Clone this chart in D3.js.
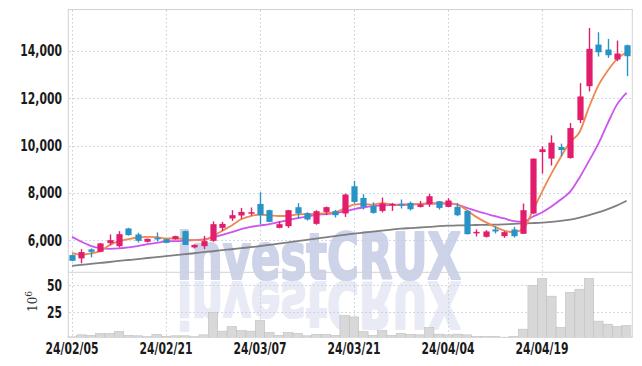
<!DOCTYPE html>
<html>
<head>
<script src="https://d3js.org/d3.v7.min.js"></script>
<style>
body { margin: 0; background: #fff; }
text { font-family: "DejaVu Sans Condensed", "DejaVu Sans", sans-serif; }
</style>
</head>
<body>
<div id="chart"></div>
<script>
var w = 642, h = 366;

// trading days shown
var dates = ["24/02/05","24/02/06","24/02/07","24/02/08","24/02/13","24/02/14","24/02/15","24/02/16","24/02/19","24/02/20",
  "24/02/21","24/02/22","24/02/23","24/02/26","24/02/27","24/02/28","24/02/29","24/03/04","24/03/05","24/03/06",
  "24/03/07","24/03/08","24/03/11","24/03/12","24/03/13","24/03/14","24/03/15","24/03/18","24/03/19","24/03/20",
  "24/03/21","24/03/22","24/03/25","24/03/26","24/03/27","24/03/28","24/03/29","24/04/01","24/04/02","24/04/03",
  "24/04/04","24/04/05","24/04/08","24/04/09","24/04/11","24/04/12","24/04/15","24/04/16","24/04/17","24/04/18",
  "24/04/19","24/04/22","24/04/23","24/04/24","24/04/25","24/04/26","24/04/29","24/04/30","24/05/02","24/05/03"];

var opens  = [5367,5228,5608,5506,5873,5747,6494,6240,5930,6097, 6042,6042,6380,5692,5747,5970,6519,6916,7042,7140,
             7531,7266,6519,6590,7392,7139,6688,7194,7224,7127, 8278,7785,7447,7236,7464,7520,7574,7405,7519,7645,
             7405,7405,7236,6295,6140,6451,6169,6451,6267,7127, 9725,9447,9937,9472,11075,12510,14269,14058,13636,14240];
var highs  = [5390,5620,5650,5880,6240,6380,6520,6310,6070,6325, 6060,6190,6400,5820,6180,6790,6772,7266,7363,7380,
             8025,7290,6800,7280,7561,7180,7266,7420,7280,7970, 8502,7941,7600,7800,7574,7717,7630,7660,7953,7650,
             7772,7574,7250,6451,6420,6590,6380,6560,7548,9450, 9966,10430,10080,10950,12637,14974,14789,14510,14438,14269];
var lows   = [5110,5017,5270,5490,5790,5690,6190,5900,5900,5945, 5870,6020,5790,5650,5620,5930,6392,6814,6899,7042,
             6675,6760,6500,6519,6915,6830,6650,7055,6958,6983, 7548,7296,7120,7170,7236,7337,7250,7380,7405,7295,
             7392,7013,6240,6156,6110,6283,6100,6110,6267,7100, 8814,9152,9557,9447,10950,12286,13763,13708,13565,12932];
var closes = [5127,5494,5506,5861,6000,6253,6211,5970,6055,6030, 5886,6169,5800,5800,5958,6675,6688,7055,7194,7181,
             7055,6772,6675,7266,7127,6873,7224,7394,7055,7928, 7617,7405,7152,7548,7532,7464,7308,7505,7856,7362,
             7675,7055,6253,6350,6367,6367,6338,6169,7266,9447, 9840,10122,9810,10738,12075,14088,13945,13818,13890,13776];

// volume, millions of shares
var volume = [2.5,4.4,3.9,5.7,5.7,7.5,3.9,3.5,2.6,4.8, 3.0,3.5,3.5,2.6,4.4,25,7.8,12.1,8.4,7.8,
              17.6,6.6,3.9,6.6,5.7,3.5,4.8,4.8,3.9,22.2, 20.9,7.5,3.9,8.4,3.9,5.7,4.8,4.4,11.2,5.0,
              4.4,5.0,4.4,2.9,2.9,2.9,2.0,2.9,9.6,50, 56.2,40,11.2,43.6,46.4,56.2,17,14.2,12.1,13];

// moving averages
var ma5  = [5464,5380,5439,5536,5789,5958,6042,6112,6140,6127, 6070,6070,6042,6000,6000,6170,6400,6620,6880,7020,
            7080,7050,7020,7030,7090,7100,7110,7140,7180,7340, 7500,7530,7500,7560,7510,7480,7500,7530,7560,7550,
            7550,7500,7266,6983,6760,6561,6400,6338,6470,7230, 8040,8810,9515,10150,10570,11620,12540,13170,13666,13944];
var ma20 = [6140,5929,5760,5662,5633,5650,5692,5747,5831,5886, 5945,5958,5970,6000,6030,6112,6224,6338,6464,6561,
            6620,6675,6760,6844,6928,7000,7067,7097,7139,7211, 7308,7380,7434,7464,7490,7506,7506,7519,7548,7548,
            7548,7506,7363,7236,7126,7013,6915,6802,6772,6990, 7170,7420,7720,8050,8650,9350,10080,10950,11750,12231];
var ma60 = [4916,4955,4995,5035,5075,5120,5160,5200,5245,5285, 5325,5365,5405,5445,5490,5530,5575,5615,5660,5700,
            5747,5800,5850,5905,5960,6015,6065,6120,6170,6225, 6274,6315,6360,6400,6445,6485,6510,6535,6560,6590,
            6612,6620,6630,6640,6648,6654,6670,6690,6705,6720, 6738,6770,6810,6865,6950,7055,7170,7308,7470,7667];

var priceTicks = [6000,8000,10000,12000,14000];
var volTicks = [25,50];
var dateTicks = ["24/02/05","24/02/21","24/03/07","24/03/21","24/04/04","24/04/19"];

var upColor = "#e21d6c", downColor = "#2a93c6";

var pLeft = 67.3, pRight = 631.3, pTop = 10, pMid = 272.3, pBottom = 337.3;

var svg = d3.select("#chart").append("svg")
    .attr("width", w)
    .attr("height", h);

var x = d3.scaleBand().domain(dates).range([pLeft, pRight]).padding(0);
var y = d3.scaleLinear().domain([4640, 15730]).range([pMid, pTop]);
var yv = d3.scaleLinear().domain([0, 62]).range([339.6, pMid]);
var cx = function(i){ return x(dates[i]) + x.bandwidth()/2; };

svg.append("defs").append("clipPath").attr("id", "volclip")
  .append("rect").attr("x", pLeft).attr("y", pMid).attr("width", pRight-pLeft).attr("height", pBottom-pMid);

// watermark + its reflection
var wm = svg.append("g").attr("id", "watermark")
    .style("font-family", "'Liberation Sans', Arial, sans-serif")
    .style("font-weight", "bold").style("font-size", "64px")
    .attr("fill", "#cdd3e9").attr("stroke", "#cdd3e9").attr("stroke-width", 2.2)
    .attr("stroke-linejoin", "round");
wm.append("text")
    .attr("x", 177).attr("y", 279)
    .attr("textLength", 284).attr("lengthAdjust", "spacingAndGlyphs")
    .text("investCRUX");
wm.append("text")
    .attr("x", 177).attr("y", 279)
    .attr("transform", "translate(0,561) scale(1,-1)")
    .attr("textLength", 284).attr("lengthAdjust", "spacingAndGlyphs")
    .attr("opacity", 0.45)
    .text("investCRUX");

// grid
var grid = svg.append("g").attr("stroke", "#c6cbdd").attr("stroke-dasharray", "1.5,2.5").attr("stroke-width", 1);
grid.selectAll("line.h").data(priceTicks).enter().append("line")
    .attr("x1", pLeft+2).attr("x2", pRight)
    .attr("y1", function(d){ return Math.round(y(d))+0.5; })
    .attr("y2", function(d){ return Math.round(y(d))+0.5; });
grid.selectAll("line.v").data(volTicks).enter().append("line")
    .attr("x1", pLeft+2).attr("x2", pRight)
    .attr("y1", function(d){ return Math.round(yv(d))+0.5; })
    .attr("y2", function(d){ return Math.round(yv(d))+0.5; });
grid.selectAll("line.d").data(dateTicks).enter().append("line")
    .attr("x1", function(d){ return Math.round(x(d) + x.bandwidth()/2)+0.5; })
    .attr("x2", function(d){ return Math.round(x(d) + x.bandwidth()/2)+0.5; })
    .attr("y1", pTop).attr("y2", pBottom);

// frame
var frame = svg.append("g").attr("stroke", "#d2d2d2").attr("fill", "none");
frame.append("rect").attr("x", pLeft+1).attr("y", pTop-0.5).attr("width", pRight-pLeft).attr("height", pBottom-pTop+0.5);
frame.append("line").attr("x1", pLeft+1).attr("x2", pRight+1).attr("y1", pMid).attr("y2", pMid);

// volume bars
svg.append("g").attr("clip-path", "url(#volclip)")
  .selectAll("rect").data(volume).enter().append("rect")
    .attr("x", function(d,i){ return x(dates[i]); })
    .attr("width", x.bandwidth())
    .attr("y", function(d){ return yv(d); })
    .attr("height", function(d){ return yv(0) - yv(d); })
    .attr("fill", "#d8d8d8")
    .attr("stroke", "#c0c0c0")
    .attr("stroke-width", 0.6);

// moving averages
var line = function(arr){
  return d3.line()
    .x(function(d,i){ return cx(i); })
    .y(function(d){ return y(d); })
    .curve(d3.curveMonotoneX)(arr);
};
svg.append("path").attr("d", line(ma60)).attr("fill", "none").attr("stroke", "#7f7f7f").attr("stroke-width", 1.8);
svg.append("path").attr("d", line(ma20)).attr("fill", "none").attr("stroke", "#cc55ee").attr("stroke-width", 1.8);
svg.append("path").attr("d", line(ma5)).attr("fill", "none").attr("stroke", "#ef8750").attr("stroke-width", 1.8);

// candles
var bw = 6.2;
var candles = svg.append("g").selectAll("g").data(opens).enter().append("g")
    .attr("fill", function(d,i){ return closes[i] >= opens[i] ? upColor : downColor; })
    .attr("stroke", function(d,i){ return closes[i] >= opens[i] ? upColor : downColor; });
candles.append("line")
    .attr("x1", function(d,i){ return Math.round(cx(i))+0.5; })
    .attr("x2", function(d,i){ return Math.round(cx(i))+0.5; })
    .attr("y1", function(d,i){ return y(highs[i]); })
    .attr("y2", function(d,i){ return y(lows[i]); })
    .attr("stroke-width", 1.4);
candles.append("rect")
    .attr("x", function(d,i){ return Math.round(cx(i))+0.5 - bw/2; })
    .attr("width", bw)
    .attr("y", function(d,i){ return y(Math.max(opens[i], closes[i])); })
    .attr("height", function(d,i){ return Math.max(1.5, Math.abs(y(opens[i]) - y(closes[i]))); })
    .attr("stroke", "none");

// axis labels, squeezed horizontally like the narrow face of the original
var lab = svg.append("g").attr("fill", "#1a1a1a").style("font-weight", "bold").style("font-size", "15px");
lab.selectAll("text.p").data(priceTicks).enter().append("text")
    .attr("transform", function(d){ return "translate(62," + (y(d) + 5.5) + ") scale(0.8,1)"; })
    .attr("text-anchor", "end")
    .text(function(d){ return d3.format(",")(d); });
lab.selectAll("text.v").data(volTicks).enter().append("text")
    .attr("transform", function(d){ return "translate(62," + (yv(d) + 5.5) + ") scale(0.8,1)"; })
    .attr("text-anchor", "end")
    .text(function(d){ return d; });
lab.selectAll("text.d").data(dateTicks).enter().append("text")
    .attr("transform", function(d){ return "translate(" + (x(d) + x.bandwidth()/2) + ",354) scale(0.8,1)"; })
    .attr("text-anchor", "middle")
    .text(function(d){ return d; });

var unit = svg.append("text")
    .attr("transform", "translate(37,312) rotate(-90)")
    .attr("fill", "#333")
    .style("font-family", "'DejaVu Serif', serif")
    .style("font-size", "12px");
unit.append("tspan").text("10");
unit.append("tspan").attr("dy", -5).style("font-size", "9px").text("6");
</script>
</body>
</html>
